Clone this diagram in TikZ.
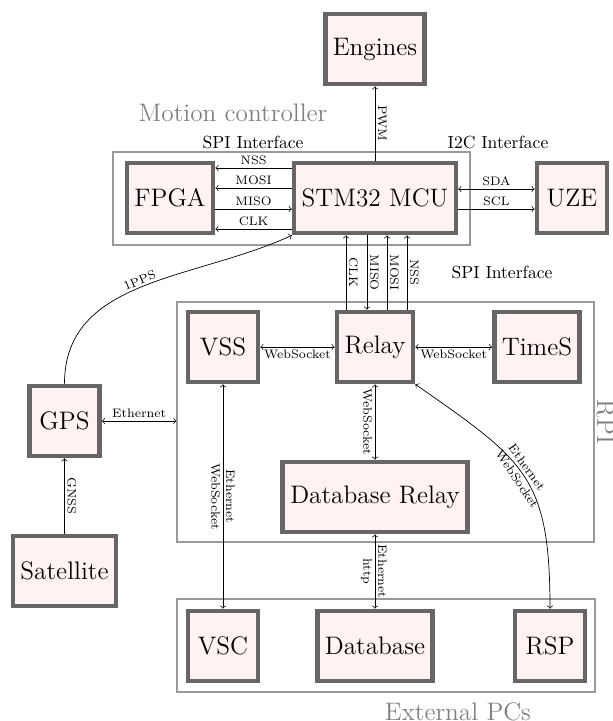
\documentclass[tikz,border=0pt]{standalone}
\begin{document}
\begin{tikzpicture}[
    box/.style={draw=black!60, line width=2.6pt, fill=red!5, font=\Large,
        minimum width=1.40cm, minimum height=1.40cm, inner xsep=4.3pt, outer sep=1.3pt},
    group/.style={draw=black!40, line width=0.6pt},
    grouplbl/.style={text=black!50, font=\Large},
    lbl/.style={font=\scriptsize, inner sep=1.5pt},
    lblr/.style={lbl, rotate=-90, anchor=south},
    lbll/.style={lbl, rotate=-90, anchor=north},
    >=to
]
    \useasboundingbox (0,0) rectangle (12.26,14.42);
    % Groups
    \node[group, minimum width=7.14cm, minimum height=1.86cm] (mc) at (5.83,10.45) {};
    \node[group, minimum width=8.34cm, minimum height=4.80cm] (rpi) at (7.71,5.98) {};
    \node[group, minimum width=8.36cm, minimum height=1.86cm] (ext) at (7.72,1.51) {};
    \node[grouplbl] (mclbl) at (4.66,12.16) {Motion controller};
    \node[grouplbl, rotate=-90, anchor=south, inner sep=1pt] (rpilbl) at (rpi.east) {RPI};
    \node[grouplbl] (extlbl) at (9.16,0.18) {External PCs};
    \node (spitop) at (5.06,11.56) {SPI Interface};
    \node (i2c) at (9.96,11.56) {I2C Interface};
    \node (spimid) at (10.04,8.98) {SPI Interface};
    % Blocks
    \node[box] (eng) at (7.50,13.44) {Engines};
    \node[box] (fpga) at (3.40,10.46) {FPGA};
    \node[box] (stm) at (7.50,10.46) {STM32 MCU};
    \node[box] (uze) at (11.44,10.46) {UZE};
    \node[box] (vss) at (4.46,7.48) {VSS};
    \node[box] (relay) at (7.50,7.48) {Relay};
    \node[box] (times) at (10.74,7.48) {TimeS};
    \node[box] (dbrelay) at (7.50,4.48) {Database Relay};
    \node[box] (vsc) at (4.46,1.50) {VSC};
    \node[box] (db) at (7.50,1.50) {Database};
    \node[box] (rsp) at (11.00,1.50) {RSP};
    \node[box] (gps) at (1.29,6.00) {GPS};
    \node[box] (sat) at (1.29,3.00) {Satellite};
    % SPI to FPGA
    \draw[->] ([yshift=6mm]stm.west) -- node[lbl, above]{NSS} ([yshift=6mm]fpga.east);
    \draw[->] ([yshift=2mm]stm.west) -- node[lbl, above]{MOSI} ([yshift=2mm]fpga.east);
    \draw[<-] ([yshift=-2.2mm]stm.west) -- node[lbl, above]{MISO} ([yshift=-2.2mm]fpga.east);
    \draw[->] ([yshift=-6.2mm]stm.west) -- node[lbl, above]{CLK} ([yshift=-6.2mm]fpga.east);
    % I2C
    \draw[<->] ([yshift=1.8mm]stm.east) -- node[lbl, above]{SDA} ([yshift=1.8mm]uze.west);
    \draw[->] ([yshift=-2.2mm]stm.east) -- node[lbl, above]{SCL} ([yshift=-2.2mm]uze.west);
    % PWM
    \draw[<-] (eng) -- node[lblr]{PWM} (stm);
    % SPI to Relay
    \draw[<-] ([xshift=-5.8mm]stm.south) -- node[lblr]{CLK} ([xshift=-5.8mm]relay.north);
    \draw[->] ([xshift=-1.6mm]stm.south) -- node[lblr]{MISO} ([xshift=-1.6mm]relay.north);
    \draw[<-] ([xshift=2.4mm]stm.south) -- node[lblr]{MOSI} ([xshift=2.4mm]relay.north);
    \draw[<-] ([xshift=6.4mm]stm.south) -- node[lblr]{NSS} ([xshift=6.4mm]relay.north);
    % RPI links
    \draw[<->] (vss) -- node[lbl, below]{WebSocket} (relay);
    \draw[<->] (relay) -- node[lbl, below]{WebSocket} (times);
    \draw[<->] (relay) -- node[lbll]{WebSocket} (dbrelay);
    \draw[<->] (dbrelay) -- node[lblr]{Ethernet} node[lbll]{http} (db);
    \draw[<->] (vss) -- node[lblr]{Ethernet} node[lbll]{WebSocket} (vsc);
    \draw[<->] (relay.south east) to[out=-35, in=90, looseness=1.3]
        node[lbl, sloped, above, pos=0.48]{Ethernet} node[lbl, sloped, below, pos=0.5]{WebSocket} (rsp.north);
    % GPS
    \draw[<->] (gps.east) -- node[lbl, above]{Ethernet} (gps.east -| rpi.west);
    \draw[<-] (gps) -- node[lblr]{GNSS} (sat);
    \draw[->] (gps.north) to[out=90, in=205] node[lbl, sloped, above, inner sep=1pt]{1PPS} (stm.south west);
\end{tikzpicture}
\end{document}
